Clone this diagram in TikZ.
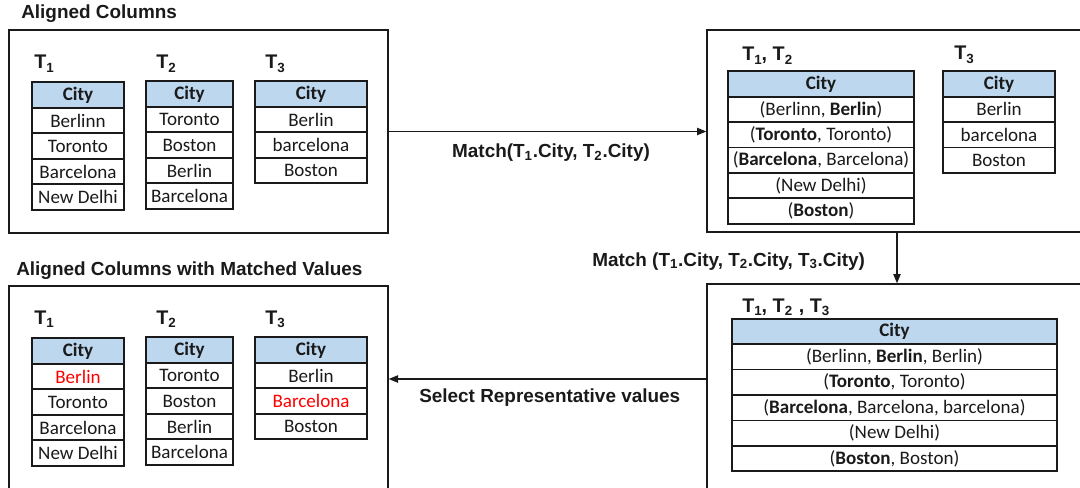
\documentclass[tikz,border=0pt]{standalone}
\usepackage{fontspec}
\setmainfont{Carlito}
\newfontfamily\labfont{Liberation Sans}
\usetikzlibrary{arrows.meta}
\definecolor{headblue}{HTML}{BDD7EE}
\definecolor{hired}{HTML}{FF0000}
\definecolor{ink}{HTML}{1A1A1A}
\newcommand\tsub[1]{\raisebox{-2.8pt}{\fontsize{10}{12}\selectfont #1}}
\tikzset{
 cell/.style={draw=ink, text=ink, line width=1.2pt, inner sep=0pt, minimum height=19.1pt, font=\fontsize{14.3}{16}\selectfont},
 head/.style={cell, fill=headblue, font=\fontsize{14.3}{16}\selectfont\bfseries},
 box/.style={draw=ink, line width=1pt, inner sep=0pt},
 lab/.style={text=ink, font=\labfont\bfseries\fontsize{14.2}{16}\selectfont, inner sep=0pt},
 tlab/.style={text=ink, font=\labfont\bfseries\fontsize{14.8}{16}\selectfont, inner sep=0pt, anchor=base west},
 arr/.style={draw=ink, line width=1pt, -{Triangle[length=7pt,width=5.5pt]}},
}
\begin{document}
\begin{tikzpicture}[x=0.75pt,y=-0.75pt]
\useasboundingbox (0,0) rectangle (1080,488);
% boxes
\node[box, minimum width=284.25pt, minimum height=152.25pt] (boxA) at (198.5,131.5) {};
\node[box, minimum width=291pt, minimum height=151.5pt] (boxB) at (901,131) {};
\node[box, minimum width=291pt, minimum height=162pt] (boxC) at (901,392) {};
\node[box, minimum width=284.25pt, minimum height=160.5pt] (boxD) at (198.5,393) {};
% titles
\node[lab, anchor=base west] (tt1) at (21,19) {Aligned Columns};
\node[lab, anchor=base west] (tt2) at (16,275) {Aligned Columns with Matched Values};
% ---- box A
\node[tlab] (aT1) at (34,69) {T\tsub{1}};
\node[tlab] (aT2) at (156,69) {T\tsub{2}};
\node[tlab] (aT3) at (265,69) {T\tsub{3}};
\node[head, minimum width=69pt] (a1h) at (78,95) {City};
\foreach \t [count=\i] in {Berlinn,Toronto,Barcelona,New Delhi}
  \node[cell, minimum width=69pt] (a1r\i) at (78,{95+25.5*\i}) {\t};
\node[head, minimum width=65.25pt] (a2h) at (189.5,94) {City};
\foreach \t [count=\i] in {Toronto,Boston,Berlin,Barcelona}
  \node[cell, minimum width=65.25pt] (a2r\i) at (189.5,{94+25.5*\i}) {\t};
\node[head, minimum width=84pt] (a3h) at (311,94) {City};
\foreach \t [count=\i] in {Berlin,barcelona,Boston}
  \node[cell, minimum width=84pt] (a3r\i) at (311,{94+25.5*\i}) {\t};
% ---- box B
\node[tlab] (bT12) at (742,61) {T\tsub{1}, T\tsub{2}};
\node[tlab] (bT3) at (954,60) {T\tsub{3}};
\node[head, minimum width=139.5pt] (b1h) at (821,84) {City};
\foreach \t [count=\i] in {{(Berlinn, \textbf{Berlin})},{(\textbf{Toronto}, Toronto)},{(\textbf{Barcelona}, Barcelona)},{(New Delhi)},{(\textbf{Boston})}}
  \node[cell, minimum width=139.5pt] (b1r\i) at (821,{84+25.4*\i}) {\t};
\node[head, minimum width=84pt] (b2h) at (999,84) {City};
\foreach \t [count=\i] in {Berlin,barcelona,Boston}
  \node[cell, minimum width=84pt] (b2r\i) at (999,{84+25.4*\i}) {\t};
% ---- box C
\node[tlab] (cT) at (742,312) {T\tsub{1}, T\tsub{2}\hspace{5pt}, T\tsub{3}};
\node[head, minimum width=243.75pt] (c1h) at (894.5,331.5) {City};
\foreach \t [count=\i] in {{(Berlinn, \textbf{Berlin}, Berlin)},{(\textbf{Toronto}, Toronto)},{(\textbf{Barcelona}, Barcelona, barcelona)},{(New Delhi)},{(\textbf{Boston}, Boston)}}
  \node[cell, minimum width=243.75pt] (c1r\i) at (894.5,{331.5+25.4*\i}) {\t};
% ---- box D
\node[tlab] (dT1) at (34,324) {T\tsub{1}};
\node[tlab] (dT2) at (156,324) {T\tsub{2}};
\node[tlab] (dT3) at (265,324) {T\tsub{3}};
\node[head, minimum width=69pt] (d1h) at (78,351) {City};
\foreach \t [count=\i] in {{\color{hired}Berlin},Toronto,Barcelona,New Delhi}
  \node[cell, minimum width=69pt] (d1r\i) at (78,{351+25.5*\i}) {\t};
\node[head, minimum width=65.25pt] (d2h) at (189.5,350) {City};
\foreach \t [count=\i] in {Toronto,Boston,Berlin,Barcelona}
  \node[cell, minimum width=65.25pt] (d2r\i) at (189.5,{350+25.5*\i}) {\t};
\node[head, minimum width=84pt] (d3h) at (311,350) {City};
\foreach \t [count=\i] in {Berlin,{\color{hired}Barcelona},Boston}
  \node[cell, minimum width=84pt] (d3r\i) at (311,{350+25.5*\i}) {\t};
% ---- connectors
\coordinate (x2) at (897,0);
\coordinate (y3) at (0,379);
\draw[arr] (boxA.east) -- (boxA.east -| boxB.west);
\draw[arr] (boxB.south -| x2) -- (boxC.north -| x2);
\draw[arr] (boxC.west |- y3) -- (boxD.east |- y3);
\node[lab, anchor=base] (m1) at (551,158) {Match(T\textsubscript{1}.City, T\textsubscript{2}.City)};
\node[lab, anchor=base west] (m2) at (592,266) {Match (T\textsubscript{1}.City, T\textsubscript{2}.City, T\textsubscript{3}.City)};
\node[lab, anchor=base west] (m3) at (419,402) {Select Representative values};
\end{tikzpicture}
\end{document}
